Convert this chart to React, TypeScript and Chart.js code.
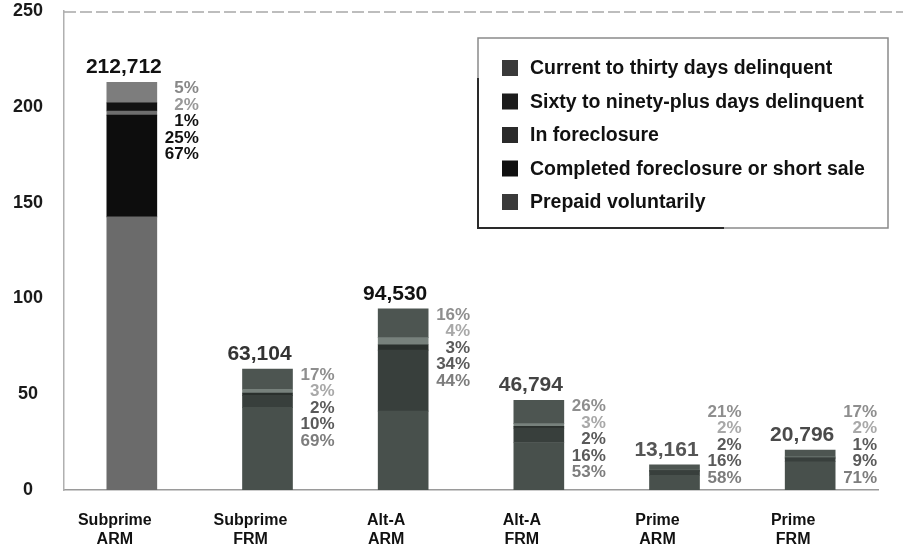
import React, { useEffect, useRef } from 'react';
import { Chart, registerables } from 'chart.js';

Chart.register(...registerables);

// Loan outcomes by product type (loan counts; axis in thousands)
const categories: string[][] = [
  ['Subprime', 'ARM'],
  ['Subprime', 'FRM'],
  ['Alt-A', 'ARM'],
  ['Alt-A', 'FRM'],
  ['Prime', 'ARM'],
  ['Prime', 'FRM'],
];
const loanCounts = [212712, 63104, 94530, 46794, 13161, 20796];

// Share of loans in each outcome, percent
const pctCurrent = [5, 17, 16, 26, 21, 17];
const pctSixtyPlus = [2, 3, 4, 3, 2, 2];
const pctForeclosure = [1, 2, 3, 2, 2, 1];
const pctCompleted = [25, 10, 34, 16, 16, 9];
const pctPrepaid = [67, 69, 44, 53, 58, 71];

const yTicks = [0, 50, 100, 150, 200, 250];

const seriesLabels = [
  'Prepaid voluntarily',
  'Completed foreclosure or short sale',
  'In foreclosure',
  'Sixty to ninety-plus days delinquent',
  'Current to thirty days delinquent',
];
const seriesPct = [pctPrepaid, pctCompleted, pctForeclosure, pctSixtyPlus, pctCurrent];

// styling (stack order bottom -> top)
const barColors = ['#48504c', '#383f3c', '#2a302d', '#77817c', '#4d5551'];
const firstBarColors = ['#6b6b6b', '#0d0d0d', '#6e6e6e', '#121212', '#7d7d7d'];
const pctColors = ['#7d7d7d', '#5a5a5a', '#5a5a5a', '#a8a8a8', '#8e8e8e'];
const firstPctColors = ['#111111', '#111111', '#111111', '#999999', '#888888'];
const swatchColors = ['#3a3a3a', '#101010', '#2a2a2a', '#1c1c1c', '#3a3a3a'];
const totalColors = ['#111111', '#333333', '#111111', '#444444', '#555555', '#4a4a4a'];

const FONT = "'Liberation Sans', Arial, Helvetica, sans-serif";

const fmt = (v: number) => String(v).replace(/\B(?=(\d{3})+(?!\d))/g, ',');

const segmentValue = (s: number, i: number) => {
  const sum = seriesPct.reduce((a, arr) => a + arr[i], 0);
  return (loanCounts[i] / 1000) * (seriesPct[s][i] / sum);
};

const annotate = {
  id: 'annotate',
  afterDatasetsDraw(chart: any) {
    const { ctx, chartArea } = chart;
    const nSeries = seriesPct.length;
    for (let i = 0; i < categories.length; i++) {
      const baseEl = chart.getDatasetMeta(0).data[i];
      const topEl = chart.getDatasetMeta(nSeries - 1).data[i];
      const barTop = topEl.y;
      const half = baseEl.width / 2;
      ctx.save();
      // total above bar
      ctx.font = `bold 21px ${FONT}`;
      ctx.fillStyle = totalColors[i];
      ctx.textAlign = 'center';
      ctx.textBaseline = 'alphabetic';
      ctx.fillText(fmt(loanCounts[i]), baseEl.x - 8, barTop - 9);
      // percentage column beside bar
      ctx.font = `bold 17px ${FONT}`;
      ctx.textAlign = 'right';
      ctx.textBaseline = 'middle';
      const lineH = 16.5;
      const first = Math.min(barTop + 6, chartArea.bottom - 12 - 4 * lineH);
      const rightX = baseEl.x + half + 42;
      for (let k = 0; k < nSeries; k++) {
        const s = nSeries - 1 - k;
        ctx.fillStyle = i === 0 ? firstPctColors[s] : pctColors[s];
        ctx.fillText(`${seriesPct[s][i]}%`, rightX, first + k * lineH);
      }
      ctx.restore();
    }
  },
  afterDraw(chart: any) {
    const { ctx, chartArea, width } = chart;
    ctx.save();
    // top frame line
    ctx.strokeStyle = '#a8a8a8';
    ctx.lineWidth = 1.5;
    ctx.setLineDash([12, 4]);
    ctx.beginPath();
    ctx.moveTo(chartArea.left, chartArea.top + 1);
    ctx.lineTo(width, chartArea.top + 1);
    ctx.stroke();
    ctx.setLineDash([]);

    // legend box
    const bx = 478, by = 38, bw = 410, bh = 190;
    ctx.fillStyle = '#ffffff';
    ctx.fillRect(bx, by, bw, bh);
    ctx.strokeStyle = '#8a8a8a';
    ctx.lineWidth = 1.5;
    ctx.strokeRect(bx, by, bw, bh);
    ctx.strokeStyle = '#2a2a2a';
    ctx.lineWidth = 2;
    ctx.beginPath();
    ctx.moveTo(bx, by + 40);
    ctx.lineTo(bx, by + bh);
    ctx.lineTo(bx + bw * 0.6, by + bh);
    ctx.stroke();

    ctx.font = `bold 19.5px ${FONT}`;
    ctx.textAlign = 'left';
    ctx.textBaseline = 'middle';
    const nSeries = seriesLabels.length;
    for (let k = 0; k < nSeries; k++) {
      const s = nSeries - 1 - k;
      const cy = 68 + k * 33.5;
      ctx.fillStyle = swatchColors[s];
      ctx.fillRect(502, cy - 8, 16, 16);
      ctx.fillStyle = '#111111';
      ctx.fillText(seriesLabels[s], 530, cy + 1);
    }
    ctx.restore();
  },
};

export default function App() {
  const canvasRef = useRef<HTMLCanvasElement | null>(null);

  useEffect(() => {
    if (!canvasRef.current) return;
    const datasets = seriesLabels.map((label, s) => ({
      label,
      data: categories.map((_, i) => segmentValue(s, i)),
      backgroundColor: categories.map((_, i) => (i === 0 ? firstBarColors[s] : barColors[s])),
      borderWidth: 0,
      barThickness: 50,
    }));

    const chart = new Chart(canvasRef.current, {
      type: 'bar',
      data: { labels: categories, datasets },
      options: {
        responsive: false,
        animation: false,
        events: [],
        layout: { padding: { top: 11, right: 25, left: 0, bottom: 0 } },
        plugins: {
          legend: { display: false },
          tooltip: { enabled: false },
        },
        scales: {
          x: {
            stacked: true,
            grid: { display: false, drawTicks: false },
            border: { display: true, color: '#9a9a9a', width: 1.5 },
            ticks: {
              color: '#111111',
              font: { family: FONT, size: 16, weight: 'bold', lineHeight: 1.2 },
              padding: 21,
              labelOffset: -17,
              maxRotation: 0,
              autoSkip: false,
            },
            afterFit: (scale: any) => {
              scale.height = 66;
              scale.paddingLeft = 0;
              scale.paddingRight = 0;
            },
          },
          y: {
            stacked: true,
            min: 0,
            max: 250,
            afterBuildTicks: (scale: any) => {
              scale.ticks = yTicks.map((v) => ({ value: v }));
            },
            grid: { display: false, drawTicks: false },
            border: { display: true, color: '#b0b0b0', width: 1.5, dash: [8, 4] },
            ticks: {
              color: '#1a1a1a',
              font: { family: FONT, size: 18, weight: 'bold' },
              crossAlign: 'center',
              padding: 21,
            },
            afterFit: (scale: any) => {
              scale.width = 64;
              scale.paddingTop = 0;
              scale.paddingBottom = 0;
            },
          },
        },
      },
      plugins: [annotate],
    } as any);

    return () => chart.destroy();
  }, []);

  return (
    <div style={{ position: 'absolute', left: 0, top: 0, width: 903, height: 556, background: '#ffffff' }}>
      <canvas ref={canvasRef} width={903} height={556} style={{ display: 'block' }} />
    </div>
  );
}
